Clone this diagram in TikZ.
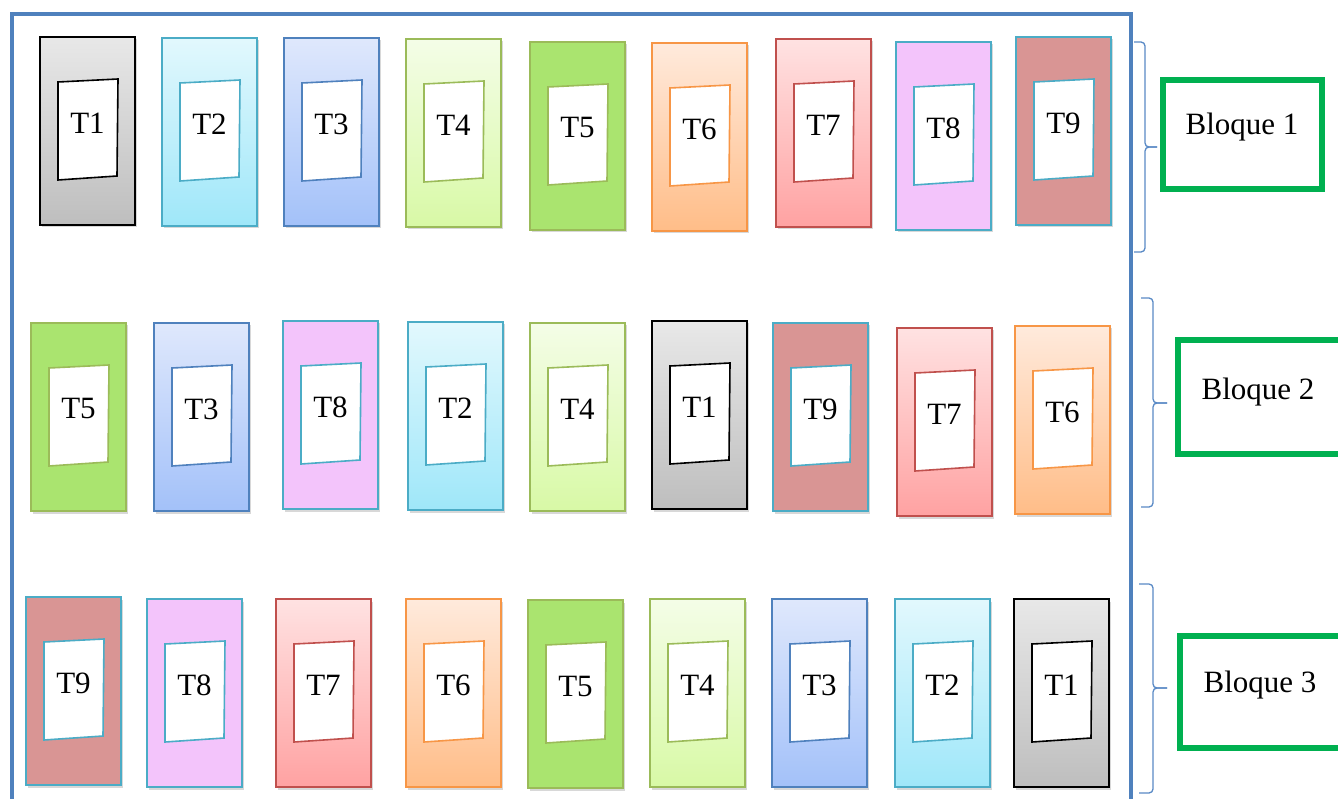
\documentclass[tikz,border=0pt]{standalone}
\usepackage{fontspec}
\setmainfont{Liberation Serif}
\usetikzlibrary{calc,shadows}
\definecolor{frameblue}{HTML}{4F81BD}
\definecolor{braceblue}{HTML}{5A8AC6}
\definecolor{bgreen}{HTML}{00B050}
\definecolor{c1t}{HTML}{E8E8E8}\definecolor{c1b}{HTML}{BEBEBE}\definecolor{c1d}{HTML}{000000}
\definecolor{c2t}{HTML}{E2F8FD}\definecolor{c2b}{HTML}{9FE7F9}\definecolor{c2d}{HTML}{4BACC6}
\definecolor{c3t}{HTML}{DFE8FC}\definecolor{c3b}{HTML}{A3C1F9}\definecolor{c3d}{HTML}{4F81BD}
\definecolor{c4t}{HTML}{F4FDE7}\definecolor{c4b}{HTML}{D8F9A6}\definecolor{c4d}{HTML}{9BBB59}
\definecolor{c5t}{HTML}{AAE46F}\definecolor{c5b}{HTML}{AAE46F}\definecolor{c5d}{HTML}{9BBB59}
\definecolor{c6t}{HTML}{FFEADC}\definecolor{c6b}{HTML}{FFBD88}\definecolor{c6d}{HTML}{F79646}
\definecolor{c7t}{HTML}{FFE2E2}\definecolor{c7b}{HTML}{FFA2A2}\definecolor{c7d}{HTML}{C0504D}
\definecolor{c8t}{HTML}{F3C4FB}\definecolor{c8b}{HTML}{F3C4FB}\definecolor{c8d}{HTML}{4BACC6}
\definecolor{c9t}{HTML}{D99594}\definecolor{c9b}{HTML}{D99594}\definecolor{c9d}{HTML}{4BACC6}
\tikzset{
  cellbox/.style={rectangle, minimum width=95, minimum height=188, inner sep=0pt,
    line width=1.6pt, draw=c#1d, top color=c#1t, bottom color=c#1b,
    drop shadow={opacity=0.3, shadow xshift=1.5pt, shadow yshift=-2.5pt}},
  winline/.style={draw=c#1d, line width=1.6pt, fill=white, line join=miter},
  tlabel/.style={inner sep=0pt, font=\fontsize{31}{36}\selectfont},
  bloquebox/.style={rectangle, draw=bgreen, line width=6pt, fill=white, inner sep=0pt,
    drop shadow={opacity=0.3, shadow xshift=2pt, shadow yshift=-3pt}},
  bloquetext/.style={inner sep=0pt, font=\fontsize{31}{36}\selectfont},
  framestyle/.style={draw=frameblue, line width=4.5pt, line join=miter},
  bracestyle/.style={draw=braceblue, line width=1.3pt, rounded corners=4pt},
}
\newcommand\tcell[4]{%
  \node[cellbox=#4] (#1) at ({#2+48.5},{#3+95}) {};
  \draw[winline=#4] ($(#1.center)+(-29.5,-49)$) -- ($(#1.center)+(30.5,-52)$)
     -- ($(#1.center)+(29.5,45)$) -- ($(#1.center)+(-29.5,49)$) -- cycle;
  \node[tlabel] (#1t) at ($(#1.center)+(0,-8)$) {T#4};
}
\begin{document}
\begin{tikzpicture}[x=1pt,y=-1pt]
\useasboundingbox (0,0) rectangle (1338,799);
\clip (0,0) rectangle (1338,799);
\fill[white] (0,0) rectangle (1338,799);
% frame
\draw[framestyle] (12,810) -- (12,14) -- (1131,14) -- (1131,810);
% row 1
\tcell{a1}{39}{36}{1}
\tcell{a2}{161}{37}{2}
\tcell{a3}{283}{37}{3}
\tcell{a4}{405}{38}{4}
\tcell{a5}{529}{41}{5}
\tcell{a6}{651}{42}{6}
\tcell{a7}{775}{38}{7}
\tcell{a8}{895}{41}{8}
\tcell{a9}{1015}{36}{9}
% row 2
\tcell{b1}{30}{322}{5}
\tcell{b2}{153}{322}{3}
\tcell{b3}{282}{320}{8}
\tcell{b4}{407}{321}{2}
\tcell{b5}{529}{322}{4}
\tcell{b6}{651}{320}{1}
\tcell{b7}{772}{322}{9}
\tcell{b8}{896}{327}{7}
\tcell{b9}{1014}{325}{6}
% row 3
\tcell{c1}{25}{596}{9}
\tcell{c2}{146}{598}{8}
\tcell{c3}{275}{598}{7}
\tcell{c4}{405}{598}{6}
\tcell{c5}{527}{599}{5}
\tcell{c6}{649}{598}{4}
\tcell{c7}{771}{598}{3}
\tcell{c8}{894}{598}{2}
\tcell{c9}{1013}{598}{1}
% braces
\coordinate (tip1) at (1157,147);
\coordinate (tip2) at (1167,403);
\coordinate (tip3) at (1167,688);
\draw[bracestyle] (1134,42) -- (1145,42) -- (1145,147) -- (tip1);
\draw[bracestyle] (tip1) -- (1145,147) -- (1145,252) -- (1134,252);
\draw[bracestyle] (1141,298) -- (1153,298) -- (1153,403) -- (tip2);
\draw[bracestyle] (tip2) -- (1153,403) -- (1153,507) -- (1141,507);
\draw[bracestyle] (1139,584) -- (1153,584) -- (1153,688) -- (tip3);
\draw[bracestyle] (tip3) -- (1153,688) -- (1153,793) -- (1139,793);
% bloque boxes
\node[bloquebox, minimum width=159, minimum height=109] (q1) at (1242.5,134.5) {};
\node[bloquetext] (q1t) at (1242,127.5) {Bloque 1};
\node[bloquebox, minimum width=222, minimum height=114] (q2) at (1289,397) {};
\node[bloquetext] (q2t) at (1258,392) {Bloque 2};
\node[bloquebox, minimum width=220, minimum height=112] (q3) at (1290,692) {};
\node[bloquetext] (q3t) at (1260,685) {Bloque 3};
\end{tikzpicture}
\end{document}
